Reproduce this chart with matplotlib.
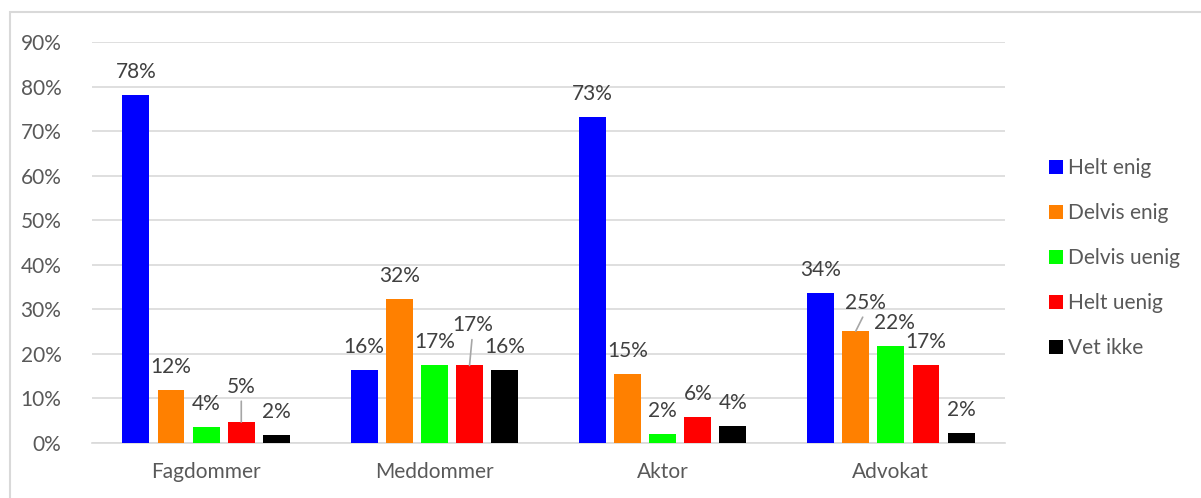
import numpy as np
import matplotlib.pyplot as plt
from matplotlib.patches import Rectangle

# data
categories = ["Fagdommer", "Meddommer", "Aktor", "Advokat"]
series = ["Helt enig", "Delvis enig", "Delvis uenig", "Helt uenig", "Vet ikke"]
helt_enig = [78.2, 16.4, 73.1, 33.7]
delvis_enig = [11.8, 32.3, 15.4, 25.1]
delvis_uenig = [3.6, 17.4, 2.0, 21.7]
helt_uenig = [4.7, 17.4, 5.8, 17.4]
vet_ikke = [1.8, 16.4, 3.8, 2.2]
values = [helt_enig, delvis_enig, delvis_uenig, helt_uenig, vet_ikke]
colors = ["#0000FF", "#FF8000", "#00FF00", "#FF0000", "#000000"]

# labels moved by hand in the original (series, category): (dx, dy) pixels, leader line
label_nudge = {(3, 0): (0, 12, True), (3, 1): (3, 17, True),
               (1, 3): (10, 5, True), (2, 3): (4, 0, False)}

plt.rcParams["font.family"] = ["Lato", "DejaVu Sans"]
txt = "#595959"
grid = "#d9d9d9"
fs = 15

fig = plt.figure(figsize=(12.01, 4.98), dpi=100)
ax = fig.add_axes([92 / 1201, 1 - 443 / 498, 913 / 1201, 401 / 498])

x = np.arange(len(categories))
step, width = 0.154, 0.118
for i, (name, vals, c) in enumerate(zip(series, values, colors)):
    xs = x + (i - 2) * step
    ax.bar(xs, vals, width=width, color=c, label=name, zorder=3)
    for j, (xi, v) in enumerate(zip(xs, vals)):
        dx, dy, leader = label_nudge.get((i, j), (0, 0, False))
        arrow = None
        if leader:
            arrow = dict(arrowstyle="-", color="#a6a6a6", lw=1.2,
                         shrinkA=1, shrinkB=0, relpos=(0.5, 0.1))
        ax.annotate(f"{v:.0f}%", xy=(xi, v), xytext=(dx, 13 + dy),
                    textcoords="offset pixels", ha="center", va="bottom",
                    fontsize=fs, color="#404040", arrowprops=arrow, zorder=4)

ax.set_ylim(0, 90)
ax.set_xlim(-0.5, 3.5)
ax.set_yticks(np.arange(0, 91, 10))
ax.set_yticklabels([f"{t}%" for t in range(0, 91, 10)])
ax.set_xticks(x)
ax.set_xticklabels(categories)
ax.tick_params(axis="both", length=0, labelsize=fs, labelcolor=txt)
ax.tick_params(axis="y", pad=22)
ax.tick_params(axis="x", pad=14)
ax.grid(axis="y", color=grid, linewidth=1.2, zorder=0)
for s in ["top", "right", "left"]:
    ax.spines[s].set_visible(False)
ax.spines["bottom"].set_color(grid)
ax.spines["bottom"].set_linewidth(1.2)

leg = fig.legend(loc="center left", bbox_to_anchor=(1049 / 1201, 1 - 258 / 498),
                 frameon=False, fontsize=fs, labelcolor=txt, handlelength=0.68,
                 handleheight=0.68, handletextpad=0.25, labelspacing=1.2,
                 borderpad=0, borderaxespad=0)

# outer chart border
fig.patches.append(Rectangle((10 / 1201, -0.1), 1.2, 1.1 - 12 / 498,
                             transform=fig.transFigure, fill=False,
                             edgecolor=grid, linewidth=1.5))

fig.savefig("out.png", dpi=100)
